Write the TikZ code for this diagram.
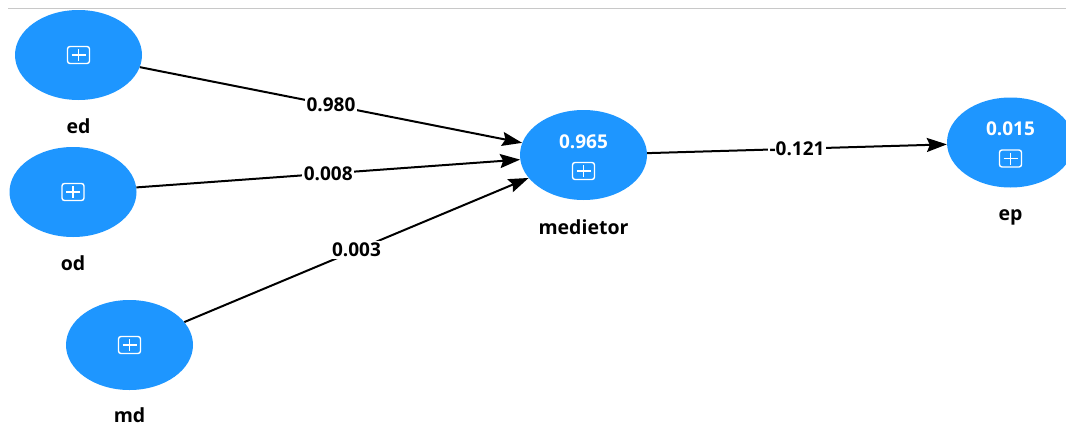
\documentclass[tikz,border=0pt]{standalone}
\usepackage{fontspec}
\setmainfont{Open Sans}
\usetikzlibrary{shapes.geometric,arrows.meta}
\definecolor{nodeblue}{RGB}{30,150,255}
\definecolor{rulegray}{RGB}{200,200,200}
\begin{document}
\begin{tikzpicture}[x=1pt,y=-1pt,
  lv/.style={ellipse,fill=nodeblue,minimum width=127pt,minimum height=90pt,inner sep=0pt},
  lvname/.style={anchor=base,font=\fontsize{19.5}{19.5}\selectfont\bfseries},
  val/.style={anchor=base,text=white,font=\fontsize{19}{19}\selectfont\bfseries},
  icon/.style={draw=white,rounded corners=2.5pt,line width=1.4pt,minimum width=22pt,minimum height=17pt,inner sep=0pt,
    path picture={\draw[white,line width=1.4pt]
      ([xshift=-7pt]path picture bounding box.center) -- ([xshift=7pt]path picture bounding box.center)
      ([yshift=-6pt]path picture bounding box.center) -- ([yshift=6pt]path picture bounding box.center);}},
  conn/.style={line width=2pt,-{Stealth[length=20pt,width=14pt,inset=3pt]}},
  coef/.style={fill=white,inner sep=1.5pt,font=\fontsize{19}{19}\selectfont\bfseries}
]
\useasboundingbox (0,0) rectangle (1066,426);
\coordinate (ruleL) at (8,8);
\coordinate (ruleR) at (1066,8);
\draw[rulegray,line width=1pt] (ruleL) -- (ruleR);

% latent variables
\node[lv] (ed) at (78.5,55) {};
\node[lv] (od) at (73,192) {};
\node[lv] (md) at (129.5,345) {};
\node[lv] (med) at (583.5,155) {};
\node[lv] (ep) at (1010.5,142.5) {};

% icons
\node[icon] (edi) at (78.5,55) {};
\node[icon] (odi) at (73,192) {};
\node[icon] (mdi) at (129.5,345) {};
\node[icon] (medi) at (583.5,171) {};
\node[icon] (epi) at (1010.5,158.5) {};

% values
\node[val] (medv) at (583.5,148) {0.965};
\node[val] (epv) at (1010.5,135.5) {0.015};

% names
\node[lvname] (edn) at (78.5,133) {ed};
\node[lvname] (odn) at (73,270) {od};
\node[lvname] (mdn) at (129.5,422) {md};
\node[lvname] (medn) at (583.5,234) {medietor};
\node[lvname] (epn) at (1010.5,220) {ep};

% paths
\draw[conn] (ed) -- node[coef] (c1) {0.980} (med);
\draw[conn] (od) -- node[coef] (c2) {0.008} (med);
\draw[conn] (md) -- node[coef] (c3) {0.003} (med);
\draw[conn] (med) -- node[coef] (c4) {-0.121} (ep);
\end{tikzpicture}
\end{document}
